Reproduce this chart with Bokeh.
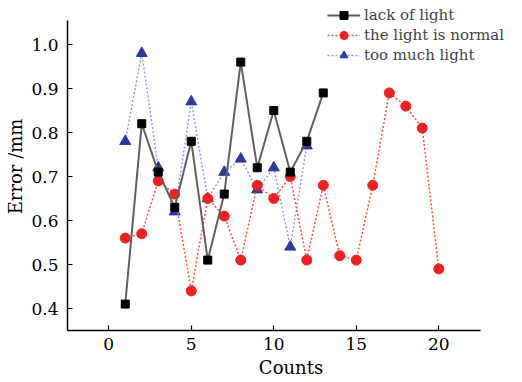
from bokeh.plotting import figure
from bokeh.models import Legend, LegendItem, Range1d, FixedTicker, PrintfTickFormatter
from bokeh.embed import file_html
from bokeh.resources import INLINE

x_lack = list(range(1, 14))
lack = [0.41, 0.82, 0.71, 0.63, 0.78, 0.51, 0.66, 0.96, 0.72, 0.85, 0.71, 0.78, 0.89]
x_normal = list(range(1, 21))
normal = [0.56, 0.57, 0.69, 0.66, 0.44, 0.65, 0.61, 0.51, 0.68, 0.65, 0.70, 0.51,
          0.68, 0.52, 0.51, 0.68, 0.89, 0.86, 0.81, 0.49]
x_much = list(range(1, 13))
much = [0.78, 0.98, 0.72, 0.62, 0.87, 0.65, 0.71, 0.74, 0.67, 0.72, 0.54, 0.77]
x_ticks = [0, 5, 10, 15, 20]
y_ticks = [0.4, 0.5, 0.6, 0.7, 0.8, 0.9, 1.0]
names = ["lack of light", "the light is normal", "too much light"]

FONT = "DejaVu Serif"

p = figure(frame_width=447, frame_height=328, output_backend="svg", toolbar_location=None,
           x_range=Range1d(-2.5, 24.59), y_range=Range1d(0.35, 1.0955),
           min_border_left=67, min_border_top=2, min_border_right=0, min_border_bottom=44)
p.outline_line_color = None
p.grid.visible = False
p.background_fill_color = "white"

for ax in (p.xaxis[0], p.yaxis[0]):
    ax.axis_line_width = 1.5
    ax.axis_line_color = "black"
    ax.major_tick_in = 5
    ax.major_tick_out = 0
    ax.minor_tick_line_color = None
    ax.major_tick_line_color = "black"
    ax.major_tick_line_width = 1.2
    ax.major_label_text_font = FONT
    ax.major_label_text_font_size = "17px"
    ax.major_label_text_color = "black"
    ax.axis_label_text_font = FONT
    ax.axis_label_text_font_size = "18px"
    ax.axis_label_text_font_style = "normal"
    ax.axis_label_text_color = "black"

p.xaxis.bounds = (-2.5, 22.5)
p.yaxis.bounds = (0.35, 1.055)
p.xaxis.ticker = FixedTicker(ticks=x_ticks)
p.yaxis.ticker = FixedTicker(ticks=y_ticks)
p.yaxis.formatter = PrintfTickFormatter(format="%.1f")
p.xaxis.axis_label = "Counts"
p.yaxis.axis_label = "Error /mm"
p.xaxis.major_label_standoff = 7
p.yaxis.major_label_standoff = 9
p.xaxis.axis_label_standoff = 4
p.yaxis.axis_label_standoff = 2

l1 = p.line(x_much, much, line_color="#9094e4", line_width=1.4, line_dash="2 2")
m1 = p.scatter(x_much, much, marker="triangle", size=11, fill_color="#2b3a9c", line_color="#2b3a9c")
l2 = p.line(x_normal, normal, line_color="#ff4a4a", line_width=1.5, line_dash="2 2")
m2 = p.scatter(x_normal, normal, marker="circle", size=10, fill_color="#f02020", line_color="#f02020")
l0 = p.line(x_lack, lack, line_color="#606060", line_width=2)
m0 = p.scatter(x_lack, lack, marker="square", size=8, fill_color="black", line_color="black")

legend = Legend(items=[LegendItem(label=names[0], renderers=[l0, m0]),
                       LegendItem(label=names[1], renderers=[l2, m2]),
                       LegendItem(label=names[2], renderers=[l1, m1])],
                location=(260, 265), orientation="vertical",
                label_text_font=FONT, label_text_font_size="15px",
                glyph_width=33, glyph_height=20, label_standoff=4, spacing=0,
                padding=0, margin=0, border_line_color=None,
                background_fill_alpha=0, label_height=20)
p.add_layout(legend, "center")

open("out.html", "w").write(file_html(p, INLINE))
